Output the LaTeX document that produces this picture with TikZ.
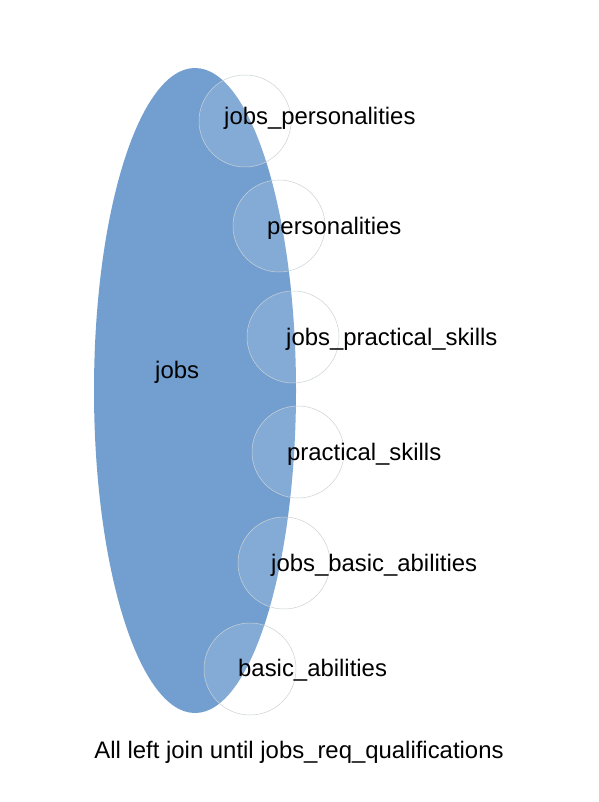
\documentclass[tikz,border=0pt]{standalone}
\usepackage{fontspec}
\setmainfont{Liberation Sans}
\usepackage{xcolor}
\usetikzlibrary{shapes.geometric,positioning}
\definecolor{setblue}{HTML}{729FCF}
\definecolor{ringgray}{HTML}{CAD2D6}

\begin{document}
\begin{tikzpicture}[x=1pt, y=-1pt,
    every node/.style={font=\fontsize{23.9}{28}\selectfont, inner sep=0pt},
    bigset/.style={ellipse, fill=setblue, minimum width=202pt, minimum height=645pt},
    subset/.style={circle, draw=ringgray, line width=0.5pt, fill=white, fill opacity=0.13, minimum size=92pt},
    tag/.style={anchor=base west, text=black}
]
\useasboundingbox (0,0) rectangle (598,802);

% Main table
\node[bigset] (jobs) at (195,390.5) {};

% Joined tables
\node[subset] (jp) at (245,121) {};
\node[subset] (pers) at (279,226) {};
\node[subset] (jps) at (293,337) {};
\node[subset] (ps) at (298,452) {};
\node[subset] (jba) at (284,563) {};
\node[subset] (ba) at (250,669) {};

% Labels
\node[tag] (jobslbl) at (155,378) {jobs};
\node[tag] (jplbl) at (224,125) {jobs\_personalities};
\node[tag] (perslbl) at (267,234) {personalities};
\node[tag] (jpslbl) at (286,345) {jobs\_practical\_skills};
\node[tag] (pslbl) at (287,460) {practical\_skills};
\node[tag] (jbalbl) at (271,571) {jobs\_basic\_abilities};
\node[tag] (balbl) at (238,676) {basic\_abilities};

% Caption
\node[anchor=base] (caption) at (299,758) {All left join until jobs\_req\_qualifications};

\end{tikzpicture}
\end{document}
